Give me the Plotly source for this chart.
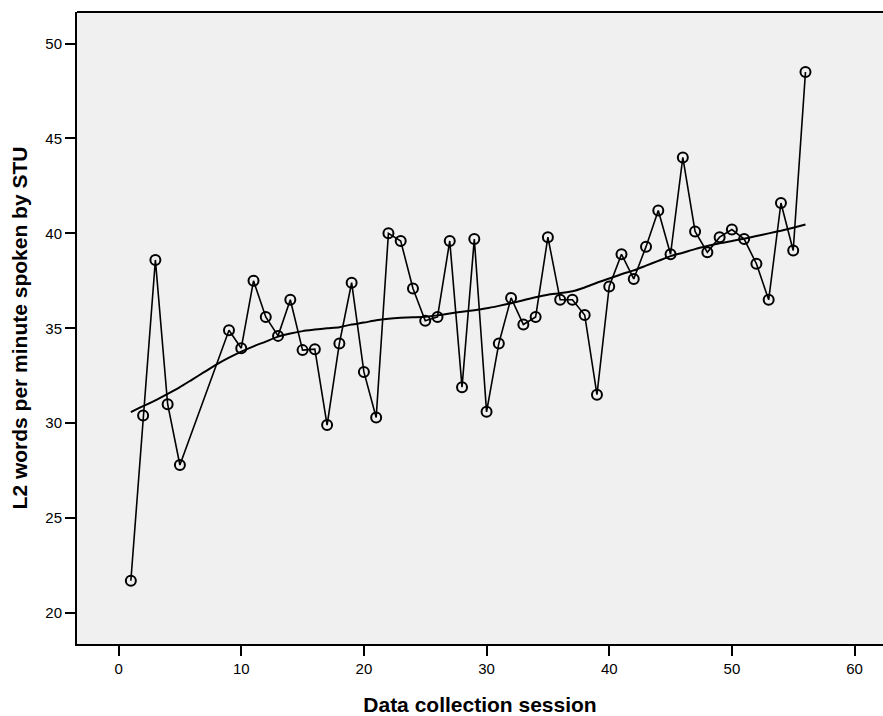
import plotly.graph_objects as go

sessions = [1, 2, 3, 4, 5, 9, 10, 11, 12, 13, 14, 15, 16, 17, 18, 19, 20, 21, 22, 23,
            24, 25, 26, 27, 28, 29, 30, 31, 32, 33, 34, 35, 36, 37, 38, 39, 40, 41, 42,
            43, 44, 45, 46, 47, 48, 49, 50, 51, 52, 53, 54, 55, 56]
wpm = [21.7, 30.4, 38.6, 31.0, 27.8, 34.9, 33.95, 37.5, 35.6, 34.6, 36.5, 33.85, 33.9, 29.9,
       34.2, 37.4, 32.7, 30.3, 40.0, 39.6, 37.1, 35.4, 35.6, 39.6, 31.9, 39.7, 30.6, 34.2,
       36.6, 35.2, 35.6, 39.8, 36.5, 36.5, 35.7, 31.5, 37.2, 38.9, 37.6, 39.3, 41.2, 38.9,
       44.0, 40.1, 39.0, 39.8, 40.2, 39.7, 38.4, 36.5, 41.6, 39.1, 48.5]

fit_x = [1, 2, 3, 4, 5, 6, 7, 8, 9, 10, 11, 12, 13, 14, 15, 16, 17, 18, 19, 20, 21, 22,
         23, 24, 25, 26, 27, 28, 29, 30, 31, 32, 33, 34, 35, 36, 37, 38, 39, 40, 41, 42,
         43, 44, 45, 46, 47, 48, 49, 50, 51, 52, 53, 54, 55, 56]
fit_y = [30.58, 30.9, 31.2, 31.54, 31.9, 32.3, 32.7, 33.1, 33.45, 33.77, 34.05, 34.3, 34.56,
         34.72, 34.85, 34.93, 35.0, 35.06, 35.2, 35.3, 35.42, 35.5, 35.55, 35.58, 35.61,
         35.68, 35.78, 35.87, 35.95, 36.05, 36.18, 36.32, 36.48, 36.64, 36.77, 36.85, 36.95,
         37.15, 37.4, 37.62, 37.85, 38.05, 38.3, 38.55, 38.8, 38.98, 39.17, 39.33, 39.48,
         39.6, 39.72, 39.86, 40.0, 40.14, 40.3, 40.47]

x_ticks = [0, 10, 20, 30, 40, 50, 60]
y_ticks = [20, 25, 30, 35, 40, 45, 50]

FONT = "Liberation Sans, Arial, sans-serif"

fig = go.Figure()
fig.add_trace(go.Scatter(
    x=fit_x, y=fit_y, mode="lines",
    line=dict(color="black", width=2, shape="spline", smoothing=0.6),
    hoverinfo="skip", showlegend=False,
))
fig.add_trace(go.Scatter(
    x=sessions, y=wpm, mode="lines+markers",
    line=dict(color="black", width=1.6),
    marker=dict(symbol="circle-open", size=10, color="black", line=dict(width=2, color="black")),
    showlegend=False,
))

fig.update_layout(
    width=883, height=716,
    margin=dict(l=77, r=0, t=12, b=72),
    paper_bgcolor="white",
    plot_bgcolor="#f0f0f0",
    font=dict(family=FONT, color="black", size=15),
    xaxis=dict(
        range=[-3.39, 62.32],
        tickvals=x_ticks,
        ticks="outside", ticklen=10, tickwidth=2, tickcolor="black",
        showgrid=False, zeroline=False,
        showline=True, linecolor="black", linewidth=2, mirror=False,
        title=dict(text="<b>Data collection session</b>", font=dict(size=21, family=FONT), standoff=21),
        tickfont=dict(size=15),
    ),
    yaxis=dict(
        range=[18.37, 51.66],
        tickvals=y_ticks,
        ticks="outside", ticklen=10, tickwidth=2, tickcolor="black",
        showgrid=False, zeroline=False,
        showline=True, linecolor="black", linewidth=2, mirror=False,
        title=dict(text="<b>L2 words per minute spoken by STU</b>", font=dict(size=21, family=FONT), standoff=12),
        tickfont=dict(size=15),
    ),
    shapes=[dict(type="line", xref="paper", yref="paper", x0=0, x1=1.01, y0=1, y1=1,
                 line=dict(color="black", width=2))],
)

fig.write_html("out.html")
